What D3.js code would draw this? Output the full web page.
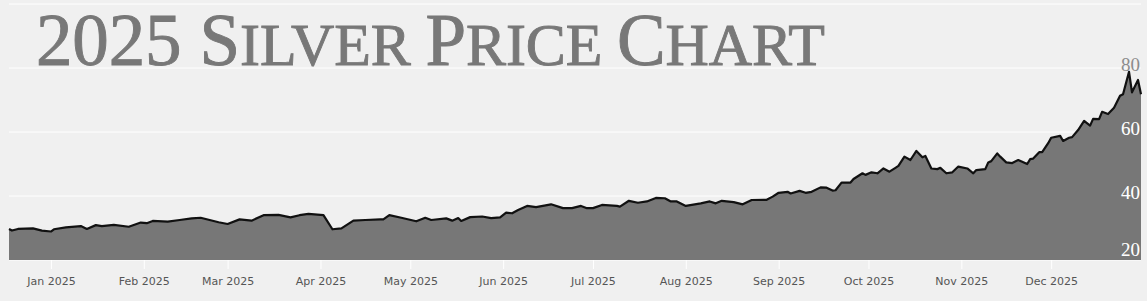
<!DOCTYPE html>
<html>
<head>
<meta charset="utf-8">
<script src="https://cdn.jsdelivr.net/npm/d3@7"></script>
<style>
  html, body { margin: 0; padding: 0; background: #f0f0f0; }
  svg { display: block; }
</style>
</head>
<body>
<div id="chart"></div>
<script>
// silver price, USD/oz
var dates = [
  "2024-12-18","2024-12-19","2024-12-21","2024-12-26","2024-12-29",
  "2025-01-01","2025-01-02","2025-01-06","2025-01-11","2025-01-13","2025-01-16","2025-01-18","2025-01-22","2025-01-27","2025-01-31",
  "2025-02-02","2025-02-04","2025-02-09","2025-02-13","2025-02-17","2025-02-20","2025-02-23","2025-02-26",
  "2025-03-01","2025-03-05","2025-03-09","2025-03-13","2025-03-18","2025-03-22","2025-03-25","2025-03-28",
  "2025-04-02","2025-04-05","2025-04-08","2025-04-12","2025-04-16","2025-04-21","2025-04-22","2025-04-24","2025-04-28",
  "2025-05-03","2025-05-06","2025-05-08","2025-05-13","2025-05-15","2025-05-17","2025-05-18","2025-05-21","2025-05-25","2025-05-28","2025-05-31",
  "2025-06-02","2025-06-04","2025-06-06","2025-06-09","2025-06-12","2025-06-17","2025-06-21","2025-06-24","2025-06-27","2025-06-29",
  "2025-07-01","2025-07-04","2025-07-09","2025-07-10","2025-07-13","2025-07-16","2025-07-19","2025-07-22","2025-07-25","2025-07-27","2025-07-29",
  "2025-08-01","2025-08-06","2025-08-09","2025-08-11","2025-08-13","2025-08-17","2025-08-20","2025-08-23","2025-08-28","2025-08-30",
  "2025-09-01","2025-09-04","2025-09-05","2025-09-08","2025-09-10","2025-09-12","2025-09-15","2025-09-17","2025-09-19","2025-09-20","2025-09-22","2025-09-25","2025-09-26","2025-09-29","2025-09-30",
  "2025-10-02","2025-10-04","2025-10-06","2025-10-08","2025-10-10","2025-10-11","2025-10-13","2025-10-15","2025-10-17","2025-10-19","2025-10-20","2025-10-22","2025-10-24","2025-10-25","2025-10-27","2025-10-29","2025-10-31",
  "2025-11-03","2025-11-05","2025-11-06","2025-11-09","2025-11-10","2025-11-11","2025-11-13","2025-11-14","2025-11-16","2025-11-18","2025-11-20","2025-11-23","2025-11-24","2025-11-25","2025-11-27","2025-11-28","2025-11-30",
  "2025-12-01","2025-12-04","2025-12-05","2025-12-07","2025-12-08","2025-12-10","2025-12-12","2025-12-14","2025-12-15","2025-12-17","2025-12-18","2025-12-20","2025-12-22","2025-12-24","2025-12-25","2025-12-27","2025-12-28","2025-12-30","2025-12-31"
];
var prices = [
  29.7,29.2,29.7,29.9,29.2,
  28.9,29.6,30.2,30.6,29.7,30.9,30.6,31.0,30.4,31.7,
  31.5,32.2,32.0,32.5,33.0,33.2,32.5,31.8,
  31.25,32.7,32.3,34.0,34.1,33.3,34.0,34.4,
  34.0,29.6,29.9,32.3,32.5,32.7,32.7,34.0,33.2,
  32.1,33.2,32.5,33.0,32.3,33.1,32.2,33.4,33.6,33.1,33.3,
  34.8,34.6,35.6,36.9,36.5,37.4,36.2,36.2,36.9,36.2,
  36.2,37.2,36.9,36.7,38.5,37.9,38.3,39.4,39.3,38.3,38.3,
  36.9,37.7,38.3,37.7,38.5,38.1,37.4,38.75,38.8,39.8,
  41.0,41.3,40.8,41.6,41.0,41.3,42.7,42.6,41.7,41.8,44.2,44.2,45.3,47.1,46.6,
  47.4,47.1,48.6,47.6,48.8,49.4,52.3,51.25,54.1,52.1,52.5,48.6,48.4,48.8,47.1,47.4,49.2,
  48.6,47.1,48.1,48.4,50.5,50.9,53.3,52.3,50.5,50.3,51.25,50.0,51.5,51.7,53.7,53.7,56.5,
  58.2,58.8,57.2,58.2,58.4,60.6,63.5,62.0,64.1,64.0,66.3,65.6,67.6,71.3,71.8,78.8,72.4,76.25,71.8
];
var yTicks = [20, 40, 60, 80];
var gridValues = [20, 40, 60, 80, 100];
var titleParts = [
  { text: "2025 S", big: true }, { text: "ILVER ", big: false },
  { text: "P", big: true }, { text: "RICE ", big: false },
  { text: "C", big: true }, { text: "HART", big: false }
];

var W = 1147, H = 301;
var plot = { left: 9, right: 1141, top: 4, bottom: 260 };

var parse = d3.timeParse("%Y-%m-%d");
var data = dates.map(function(d, i) { return { date: parse(d), value: prices[i] }; });

var x = d3.scaleTime()
  .domain(d3.extent(data, function(d) { return d.date; }))
  .range([plot.left, plot.right]);
var y = d3.scaleLinear()
  .domain([20, 100])
  .range([plot.bottom, plot.top]);

var svg = d3.select("#chart").append("svg")
  .attr("width", W)
  .attr("height", H);

// gridlines sit under the area
svg.append("g").selectAll("line")
  .data(gridValues)
  .enter().append("line")
  .attr("x1", plot.left).attr("x2", plot.right)
  .attr("y1", function(d) { return y(d); })
  .attr("y2", function(d) { return y(d); })
  .attr("stroke", "#fff")
  .attr("stroke-width", 1);

// title
var title = svg.append("text")
  .attr("x", 36)
  .attr("y", 65)
  .attr("fill", "#787878")
  .attr("stroke", "#787878")
  .attr("stroke-width", 0.9)
  .style("font-family", "'Liberation Serif', 'DejaVu Serif', serif")
  .attr("textLength", 789)
  .attr("lengthAdjust", "spacing");
title.selectAll("tspan")
  .data(titleParts)
  .enter().append("tspan")
  .style("font-size", function(d) { return d.big ? "73px" : "60px"; })
  .text(function(d) { return d.text; });

var area = d3.area()
  .x(function(d) { return x(d.date); })
  .y0(plot.bottom)
  .y1(function(d) { return y(d.value); });
var line = d3.line()
  .x(function(d) { return x(d.date); })
  .y(function(d) { return y(d.value); });

svg.append("clipPath")
  .attr("id", "areaClip")
  .append("path")
  .datum(data)
  .attr("d", area);

svg.append("path")
  .datum(data)
  .attr("d", area)
  .attr("fill", "#777777");

// y labels: grey where they sit on the background, white over the area
function yLabels(g, colour) {
  g.selectAll("text")
    .data(yTicks)
    .enter().append("text")
    .attr("x", plot.right - 1)
    .attr("y", function(d) { return Math.min(y(d) + 3, plot.bottom - 4); })
    .attr("text-anchor", "end")
    .attr("fill", colour)
    .style("font-family", "'Liberation Serif', 'DejaVu Serif', serif")
    .style("font-size", "19px")
    .text(function(d) { return d; });
}
svg.append("g").call(yLabels, "#8c8c8c");
svg.append("g").attr("clip-path", "url(#areaClip)").call(yLabels, "#fff");

svg.append("path")
  .datum(data)
  .attr("d", line)
  .attr("fill", "none")
  .attr("stroke", "#111")
  .attr("stroke-width", 2.2)
  .attr("stroke-linejoin", "round");

// x axis: month ticks
var xAxis = d3.axisBottom(x)
  .ticks(d3.timeMonth.every(1))
  .tickFormat(d3.timeFormat("%b %Y"))
  .tickSize(9)
  .tickPadding(8);
var gx = svg.append("g")
  .attr("transform", "translate(0," + plot.bottom + ")")
  .call(xAxis);
gx.select(".domain").remove();
gx.selectAll(".tick line").attr("stroke", "#fff");
gx.selectAll(".tick text")
  .attr("fill", "#555")
  .style("font-family", "'DejaVu Sans', Verdana, sans-serif")
  .style("font-size", "11px");
</script>
</body>
</html>
